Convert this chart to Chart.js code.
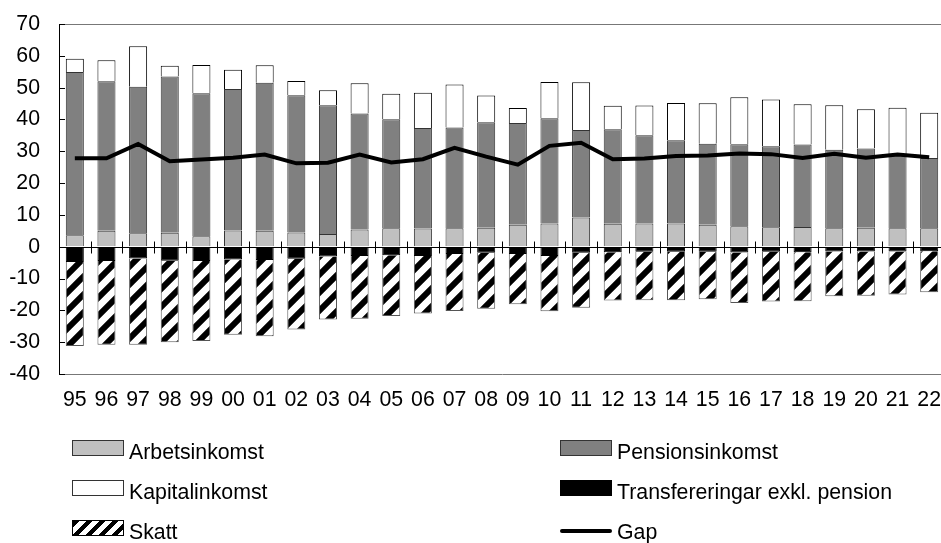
<!DOCTYPE html>
<html>
<head>
<meta charset="utf-8">
<script src="https://cdn.jsdelivr.net/npm/chart.js@4.4.1/dist/chart.umd.min.js"></script>
<style>
    html, body { margin: 0; padding: 0; background: #fff; overflow: hidden; }
    #wrap { position: relative; width: 945px; height: 543px; }
    #legend { position: absolute; left: 0; top: 0; width: 941px; height: 543px; pointer-events: none;
              font-family: "Liberation Sans", Arial, sans-serif; font-size: 21.3px; color: #000; }
    .sw { position: absolute; width: 52px; height: 16px; box-sizing: border-box; border: 1px solid #333; }
    .lbl { position: absolute; line-height: 24px; white-space: nowrap; }
</style>
</head>
<body>
<div id="wrap">
    <canvas id="gapChart"></canvas>
    <div id="legend"></div>
</div>
<script>
// Data (procent)
const years = ['95', '96', '97', '98', '99', '00', '01', '02', '03', '04', '05', '06', '07', '08',
               '09', '10', '11', '12', '13', '14', '15', '16', '17', '18', '19', '20', '21', '22'];
const arbetsinkomst = [3.6, 5.0, 4.2, 4.4, 3.3, 5.1, 5.0, 4.5, 4.0, 5.4, 5.8, 5.7, 5.8, 6.0,
                       6.9, 7.3, 9.2, 7.2, 7.3, 7.3, 6.9, 6.4, 6.1, 6.2, 5.8, 6.0, 5.8, 5.8];
const pensionsinkomst = [51.3, 47.0, 46.1, 49.1, 44.9, 44.5, 46.5, 43.1, 40.5, 36.5, 34.3, 31.6, 31.7, 33.1,
                         32.0, 33.1, 27.5, 29.7, 27.7, 26.2, 25.5, 25.8, 25.5, 25.9, 24.7, 24.9, 23.2, 22.1];
const kapitalinkomst = [4.2, 6.6, 12.7, 3.4, 8.9, 6.0, 5.5, 4.5, 4.7, 9.5, 8.0, 11.1, 13.5, 8.4,
                        4.7, 11.4, 15.0, 7.4, 9.4, 11.7, 12.7, 14.8, 14.7, 12.7, 14.0, 12.3, 14.7, 14.2];
const transfereringar = [-4.8, -4.5, -3.7, -4.4, -4.5, -4.0, -4.2, -3.8, -3.1, -2.9, -2.7, -2.9, -2.3, -1.9,
                         -2.3, -2.9, -1.9, -1.7, -1.6, -1.6, -1.6, -1.8, -1.6, -1.7, -1.5, -1.5, -1.5, -1.4];
const skatt = [-26.4, -26.3, -27.1, -25.6, -25.1, -23.7, -23.9, -22.2, -19.8, -19.7, -19.1, -18.1, -17.9, -17.6,
               -15.8, -17.4, -17.3, -15.2, -15.2, -15.2, -14.9, -15.9, -15.6, -15.4, -14.1, -13.9, -13.5, -12.9];
const gap = [27.8, 27.8, 32.3, 26.9, 27.4, 28.0, 29.0, 26.2, 26.4, 29.0, 26.5, 27.5, 31.1, 28.3,
             25.8, 31.7, 32.7, 27.5, 27.7, 28.5, 28.7, 29.3, 29.1, 27.9, 29.2, 28.0, 29.0, 28.1];
const yMin = -40;
const yMax = 70;
const yStep = 10;

const FONT = '"Liberation Sans", Arial, sans-serif';

// diagonal hatch for Skatt
function makeHatch() {
    const s = 18;
    const c = document.createElement('canvas');
    c.width = s;
    c.height = s;
    const g = c.getContext('2d');
    g.fillStyle = '#fff';
    g.fillRect(0, 0, s, s);
    g.strokeStyle = '#000';
    g.lineWidth = 6;
    g.beginPath();
    g.moveTo(-s / 2, s / 2); g.lineTo(s / 2, -s / 2);
    g.moveTo(0, s); g.lineTo(s, 0);
    g.moveTo(s / 2, s * 1.5); g.lineTo(s * 1.5, s / 2);
    g.stroke();
    return g.createPattern(c, 'repeat');
}

// top frame line, inside y ticks, zero line with category ticks
const axisExtras = {
    id: 'axisExtras',
    afterDatasetsDraw(chart) {
        const {ctx, chartArea, scales: {x, y}} = chart;
        ctx.save();
        ctx.lineWidth = 1;

        ctx.strokeStyle = '#777';
        ctx.beginPath();
        const top = Math.round(chartArea.top) + 0.5;
        ctx.moveTo(chartArea.left, top);
        ctx.lineTo(chartArea.right, top);
        ctx.stroke();

        ctx.strokeStyle = '#000';
        ctx.beginPath();
        y.ticks.forEach(t => {
            const py = Math.round(y.getPixelForValue(t.value)) + 0.5;
            ctx.moveTo(chartArea.left, py);
            ctx.lineTo(chartArea.left + 6, py);
        });
        ctx.stroke();

        const zy = Math.round(y.getPixelForValue(0)) + 0.5;
        ctx.beginPath();
        ctx.moveTo(chartArea.left, zy);
        ctx.lineTo(chartArea.right, zy);
        for (let i = 1; i < years.length; i++) {
            const bx = Math.round((x.getPixelForValue(i - 1) + x.getPixelForValue(i)) / 2) + 0.5;
            ctx.moveTo(bx, zy - 6);
            ctx.lineTo(bx, zy + 6);
        }
        ctx.stroke();
        ctx.restore();
    }
};

const hatch = makeHatch();

const chart = new Chart(document.getElementById('gapChart'), {
    type: 'bar',
    data: {
        labels: years,
        datasets: [
            {
                type: 'line', label: 'Gap', data: gap, stack: 'gap', order: 0,
                borderColor: '#000', borderWidth: 4, pointRadius: 0, tension: 0, fill: false
            },
            { label: 'Arbetsinkomst', data: arbetsinkomst, stack: 'inc', order: 1,
              backgroundColor: '#c0c0c0', borderColor: '#333', borderWidth: 1 },
            { label: 'Pensionsinkomst', data: pensionsinkomst, stack: 'inc', order: 1,
              backgroundColor: '#808080', borderColor: '#333', borderWidth: 1 },
            { label: 'Kapitalinkomst', data: kapitalinkomst, stack: 'inc', order: 1,
              backgroundColor: '#fff', borderColor: '#000', borderWidth: 1 },
            { label: 'Transfereringar exkl. pension', data: transfereringar, stack: 'inc', order: 1,
              backgroundColor: '#000', borderColor: '#000', borderWidth: 1 },
            { label: 'Skatt', data: skatt, stack: 'inc', order: 1,
              backgroundColor: hatch, borderColor: '#555', borderWidth: 1 }
        ]
    },
    options: {
        responsive: true,
        maintainAspectRatio: false,
        animation: false,
        datasets: {
            bar: { categoryPercentage: 1, barPercentage: 0.57 }
        },
        layout: { padding: { top: 24, right: 0, bottom: 129, left: 0 } },
        plugins: {
            legend: { display: false },
            tooltip: { enabled: false }
        },
        scales: {
            x: {
                stacked: true,
                grid: { display: true, drawOnChartArea: false, drawTicks: true,
                        tickLength: 13, tickColor: 'rgba(0,0,0,0)' },
                border: { display: true, color: '#777', width: 1 },
                ticks: { color: '#000', padding: 0, maxRotation: 0, autoSkip: false,
                         font: { family: FONT, size: 21.3 } },
                afterFit: function (scale) { scale.height = 40; }
            },
            y: {
                stacked: true,
                min: yMin,
                max: yMax,
                grid: { display: true, drawOnChartArea: false, drawTicks: true,
                        tickLength: 19, tickColor: 'rgba(0,0,0,0)' },
                border: { display: true, color: '#000', width: 1 },
                ticks: { stepSize: yStep, color: '#000', padding: 0,
                         font: { family: FONT, size: 21.3 } },
                afterFit: function (scale) { scale.width = 59; }
            }
        }
    },
    plugins: [axisExtras]
});

// two-column legend below the plot
const legendItems = [
    { text: 'Arbetsinkomst', col: 0, row: 0, style: 'background:#c0c0c0;' },
    { text: 'Pensionsinkomst', col: 1, row: 0, style: 'background:#808080;' },
    { text: 'Kapitalinkomst', col: 0, row: 1, style: 'background:#fff;' },
    { text: 'Transfereringar exkl. pension', col: 1, row: 1, style: 'background:#000;border-color:#000;' },
    { text: 'Skatt', col: 0, row: 2, style: 'background:repeating-linear-gradient(135deg,#000 0 4.5px,#fff 4.5px 9.2px);border-color:#000;' },
    { text: 'Gap', col: 1, row: 2, line: true }
];
const colX = [72, 560];
const rowY = [452, 492, 532];
const legendEl = document.getElementById('legend');
legendItems.forEach(item => {
    const sw = document.createElement('div');
    sw.className = 'sw';
    sw.style.left = colX[item.col] + 'px';
    if (item.line) {
        sw.style.cssText += 'border:none;height:4px;background:#000;border-radius:2px;';
        sw.style.top = (rowY[item.row] - 3) + 'px';
    } else {
        sw.style.cssText += item.style;
        sw.style.top = (rowY[item.row] - 12) + 'px';
    }
    legendEl.appendChild(sw);
    const lbl = document.createElement('div');
    lbl.className = 'lbl';
    lbl.textContent = item.text;
    lbl.style.left = (colX[item.col] + 57) + 'px';
    lbl.style.top = (rowY[item.row] - 12) + 'px';
    legendEl.appendChild(lbl);
});
</script>
</body>
</html>
